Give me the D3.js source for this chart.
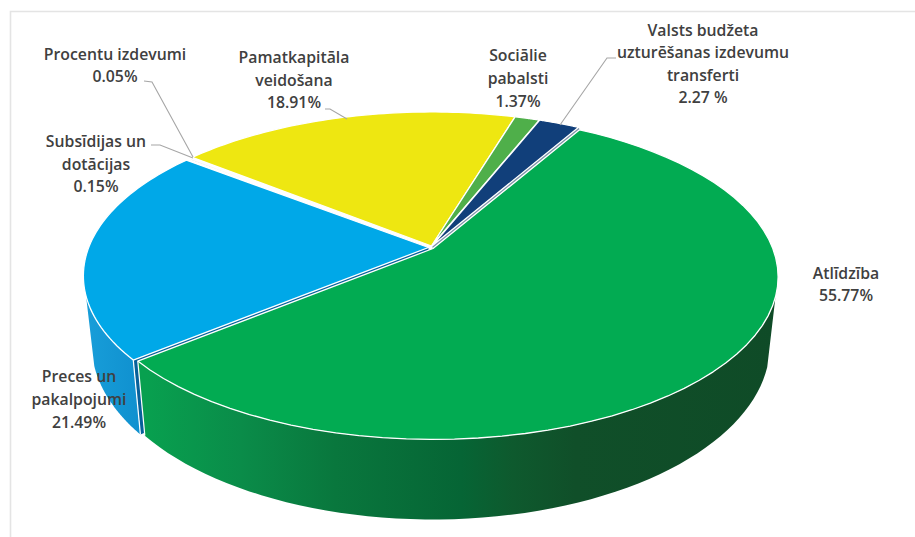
<!DOCTYPE html>
<html><head><meta charset="utf-8">
<script src="https://cdn.jsdelivr.net/npm/d3@7"></script>
<style>html,body{margin:0;padding:0;background:#fff}svg{display:block}text{font-family:"Open Sans",sans-serif;font-weight:600;font-size:15.8px;fill:#404040;text-anchor:middle}</style>
</head><body><svg id="c" width="915" height="537"></svg>
<script>
const categories=["Atlīdzība","Preces un pakalpojumi","Subsīdijas un dotācijas","Procentu izdevumi","Pamatkapitāla veidošana","Sociālie pabalsti","Valsts budžeta uzturēšanas izdevumu transferti"];
const values=[55.77,21.49,0.15,0.05,18.91,1.37,2.27];
const valueLabels=["55.77%","21.49%","0.15%","0.05%","18.91%","1.37%","2.27 %"];
const colors=["#02ab52","#00a8e8","#d4d4d4","#bdbdbd","#eee711","#4faf4a","#113f7a"];
const labelLines=[["Atlīdzība"],["Preces un","pakalpojumi"],["Subsīdijas un","dotācijas"],["Procentu izdevumi"],["Pamatkapitāla","veidošana"],["Sociālie","pabalsti"],["Valsts budžeta","uzturēšanas izdevumu","transferti"]];
const labelAt=[[846,279,22],[79,382,23],[96,147,22.5],[115,60,22],[294,63,22.5],[518,61,23],[703,36,22.4]];
const leaders=[null,null,[[151,145],[160,145],[193,158]],[[144,81],[152,82],[193,157]],[[325,109],[330,109],[347,119]],null,[[616,58],[607,58],[560,125]]];
const shifts=[[2,1.5],[-2.5,0.5],[0,0],[0,0],[0.5,-1],[0.5,-1],[1,-1]];

const cx=431,cy=247,Rx=339.8,Ry=157.5,k=0.175;
const sx=d3.scaleLinear().domain([0,1]).range([cx,cx+Rx]);
const sy=d3.scaleLinear().domain([0,1]).range([cy,cy+Ry]);
const start=29.8*Math.PI/180;
const arcs=d3.pie().sort(null).value(d=>d).startAngle(start).endAngle(start+2*Math.PI)(values);
function rim(a,s){const u=Math.sin(a),v=-Math.cos(a),w=1-k*v;return [sx(u/w)+s[0],sy(v/w)+s[1]];}
function bot(p){return [cx+(p[0]-cx)*0.976,313.6+(p[1]-cy)*1.07];}
const line=d3.line();
const arcPts=(a0,a1,s)=>d3.range(0,61).map(i=>rim(a0+(a1-a0)*i/60,s));
const svg=d3.select("#c");

// frame
svg.append("path").attr("d","M10.5,537V11.5H915").attr("fill","none").attr("stroke","#e4e4e4").attr("stroke-width",1.6);

const defs=svg.append("defs");
const gg=defs.append("linearGradient").attr("id","gs").attr("gradientUnits","userSpaceOnUse").attr("x1",146).attr("x2",777).attr("y1",0).attr("y2",0);
[[0,"#08a04f"],[.15,"#0a8c49"],[.3,"#09773d"],[.5,"#066535"],[.58,"#0e5a2e"],[.68,"#104f29"],[1,"#0f4b27"]].forEach(d=>gg.append("stop").attr("offset",d[0]).attr("stop-color",d[1]));
const gb=defs.append("linearGradient").attr("id","bs").attr("gradientUnits","userSpaceOnUse").attr("x1",85).attr("x2",145).attr("y1",0).attr("y2",0);
gb.append("stop").attr("offset",0).attr("stop-color","#189ed9");gb.append("stop").attr("offset",1).attr("stop-color","#0f8fce");

const visL=253*Math.PI/180, visR=107*Math.PI/180;
const G=arcs[0],B=arcs[1];
const sG=shifts[0],sB=shifts[1];
// cut face of the blue slice, seen through the gap
const bc=rim(B.startAngle,sB),ba=[cx+sB[0],cy+sB[1]];
svg.append("path").attr("d",line([bc,bot(bc),bot(ba),ba])+"Z").attr("fill","#07609a");
// cut face of navy slice
const N=arcs[6],sN=shifts[6];
svg.append("path").attr("d",line([[cx+sN[0],cy+sN[1]],rim(N.endAngle,sN),rim(N.endAngle,[sG[0],sG[1]]),[cx+sG[0],cy+sG[1]]])+"Z").attr("fill","#7f93a8");
// blue side
const bArc=arcPts(B.startAngle,visL,sB);
svg.append("path").attr("d",line(bArc.concat(bArc.map(bot).reverse()))+"Z").attr("fill","url(#bs)");
svg.append("path").attr("d",line([bc,bot(bc)])).attr("stroke","#fff").attr("stroke-width",1.2).attr("fill","none");
// green side
const gArc=arcPts(visR,G.endAngle,sG);
svg.append("path").attr("d",line(gArc.concat(gArc.map(bot).reverse()))+"Z").attr("fill","url(#gs)");
const gc=rim(G.endAngle,sG);
svg.append("path").attr("d",line([gc,bot(gc)])).attr("stroke","#fff").attr("stroke-width",1.2).attr("fill","none");
// tops
[1,2,3,4,5,6,0].forEach(i=>{const d=arcs[i],s=shifts[i];
  svg.append("path").attr("d",line([[cx+s[0],cy+s[1]]].concat(arcPts(d.startAngle,d.endAngle,s)))+"Z")
    .attr("fill",colors[i]).attr("stroke","#fff").attr("stroke-width",1.3).attr("stroke-linejoin","round");});
// leaders
leaders.forEach(l=>{if(!l)return;
  svg.append("path").attr("d",line(l)).attr("fill","none").attr("stroke","#a6a6a6").attr("stroke-width",1.1);});
// labels
categories.forEach((c,i)=>{const [x,y,h]=labelAt[i];
  const t=svg.append("text").attr("x",x).attr("y",y);
  labelLines[i].concat([valueLabels[i]]).forEach((s,j)=>t.append("tspan").attr("x",x).attr("y",y+j*h).text(s));});
</script></body></html>
